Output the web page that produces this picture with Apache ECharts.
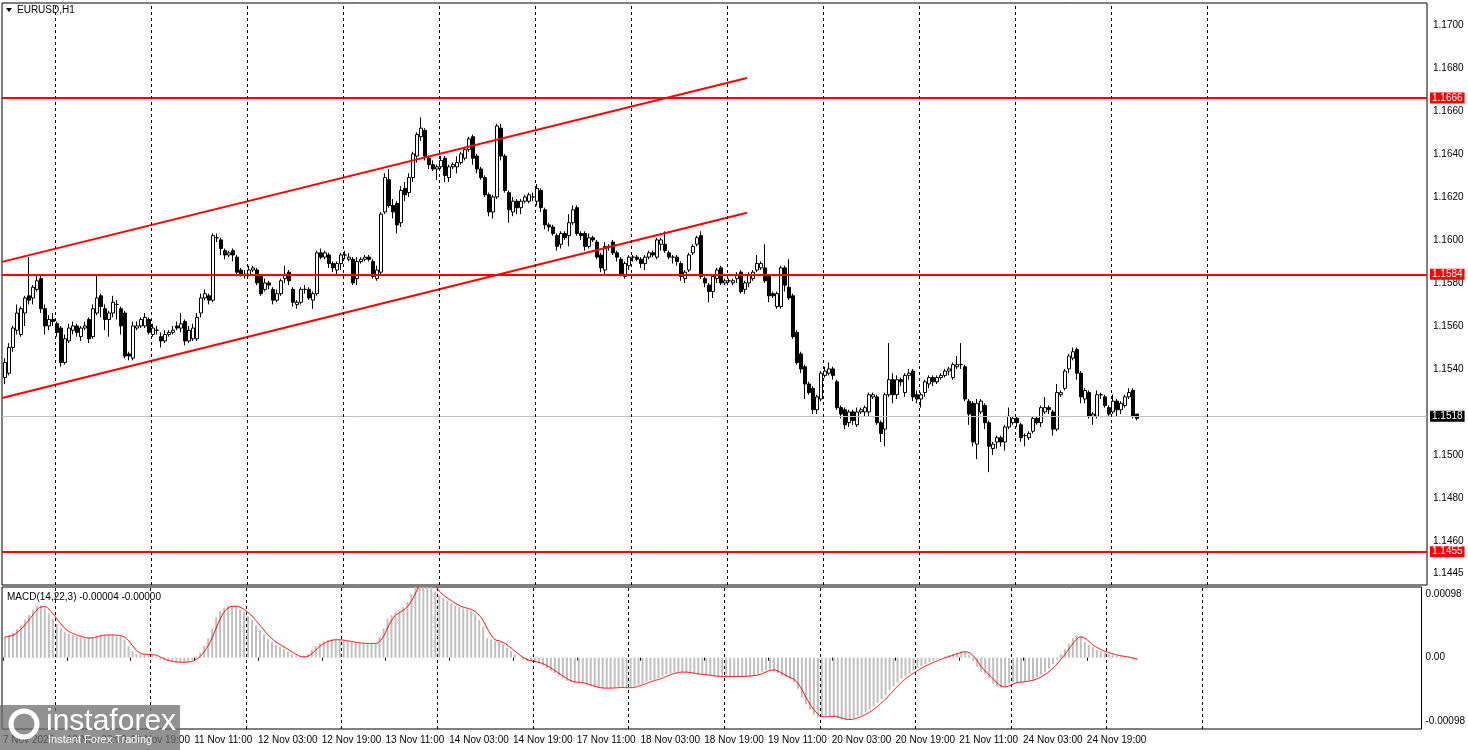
<!DOCTYPE html>
<html>
<head>
<meta charset="utf-8">
<script src="https://cdn.jsdelivr.net/npm/echarts@6/dist/echarts.min.js"></script>
<style>
  html, body { margin: 0; padding: 0; background: #fff; }
  #main { width: 1468px; height: 750px; }
</style>
</head>
<body>
<div id="main"></div>
<script>
// hourly candles, pips above 1.1500: [open, close, high, low]
var candles = [
[36,43,45,33],[38,50,52,37],[50,59,60,48],[58,66,70,56],[56,68,69,55],[66,73,74,60],[74,72,92,70],[73,78,79,70],[77,81,84,76],[82,68,84,66],
[68,60,70,56],[60,63,65,58],[63,62,66,60],[61,57,62,55],[59,43,60,41],[43,54,56,42],[53,59,61,52],[58,60,62,56],[60,57,61,55],[55,59,60,53],
[59,60,62,58],[63,54,64,52],[55,68,70,54],[66,73,84,65],[74,69,75,64],[68,63,70,58],[63,66,67,55],[66,71,74,64],[70,70,72,63],[68,60,69,56],
[66,46,67,45],[47,46,48,44],[45,60,62,44],[59,60,62,58],[60,63,64,59],[60,64,66,59],[63,57,64,56],[56,59,61,55],[58,58,60,56],[55,53,57,50],
[53,56,58,52],[56,57,58,55],[57,58,60,56],[60,59,62,58],[59,61,66,57],[62,53,63,51],[53,58,60,52],[54,59,61,53],[54,64,66,53],[66,73,75,64],
[73,75,77,72],[74,72,75,70],[72,102,103,71],[101,101,103,99],[100,96,101,93],[95,93,96,91],[93,94,95,92],[95,93,96,90],[92,85,93,84],[86,84,87,83],
[84,84,86,82],[84,86,88,83],[86,87,88,85],[86,80,87,79],[83,75,84,74],[77,80,82,76],[80,79,81,77],[77,72,78,70],[72,75,77,71],[75,81,82,74],
[82,84,88,80],[85,81,86,79],[77,71,78,69],[70,71,72,68],[71,77,78,70],[77,77,79,75],[77,73,78,72],[72,75,76,68],[75,94,95,74],[94,92,96,91],
[92,94,95,91],[93,89,94,87],[89,87,90,85],[86,89,90,84],[89,93,94,86],[93,93,95,91],[91,92,94,90],[91,80,92,79],[82,90,92,79],[90,91,92,89],
[91,92,93,90],[92,91,93,90],[90,83,91,82],[82,86,88,81],[85,112,113,84],[113,129,131,112],[128,116,133,115],[116,113,119,110],[117,107,118,103],[108,123,125,106],
[124,121,127,118],[122,129,131,120],[129,140,141,127],[139,149,150,136],[148,152,157,146],[151,139,152,137],[138,135,139,133],[135,133,137,132],[133,134,135,128],[134,137,139,133],
[138,130,139,127],[129,134,135,127],[134,135,136,133],[134,136,139,131],[136,140,141,135],[138,142,143,137],[142,147,148,141],[148,138,149,135],[139,133,140,131],[133,129,134,128],
[129,121,130,120],[121,113,122,111],[113,120,121,110],[120,153,154,119],[152,139,154,137],[139,123,140,122],[122,114,123,108],[113,118,120,111],[118,115,119,112],[115,118,119,112],
[118,120,121,117],[118,121,122,117],[120,120,122,118],[118,124,126,116],[123,115,124,113],[114,107,115,105],[107,106,108,104],[106,103,107,102],[102,97,103,95],[98,103,104,96],
[103,101,104,100],[102,108,112,97],[108,114,116,107],[115,103,116,102],[103,102,104,100],[103,97,104,95],[97,101,103,96],[101,100,102,99],[99,92,100,91],[93,87,94,85],
[86,97,99,84],[97,97,98,95],[99,94,100,93],[94,92,95,90],[91,84,92,83],[83,89,90,82],[88,92,93,86],[92,92,93,90],[92,91,93,90],[91,89,92,87],
[89,92,93,86],[92,94,95,91],[94,93,95,92],[92,100,101,91],[98,100,101,95],[98,95,104,94],[94,92,95,91],[92,92,93,89],[92,90,93,88],[89,83,90,81],
[82,85,86,80],[86,93,94,85],[94,97,98,93],[98,101,102,97],[102,83,104,82],[82,80,83,78],[79,76,80,71],[76,83,84,73],[82,86,87,80],[87,80,88,79],
[80,81,82,79],[81,81,82,80],[80,81,82,79],[82,84,85,80],[85,76,86,75],[77,80,81,75],[80,84,85,78],[82,85,86,81],[86,89,93,85],[87,89,90,86],
[87,81,98,80],[83,74,84,71],[75,74,76,73],[69,75,76,68],[69,87,88,68],[87,79,88,76],[78,73,91,72],[74,55,75,54],[57,43,58,42],[47,40,48,38],
[41,33,42,26],[33,29,34,28],[31,21,32,19],[21,27,28,19],[26,38,39,25],[37,39,41,36],[38,40,43,37],[40,37,41,35],[34,22,35,21],[22,19,23,17],
[21,14,22,12],[15,20,21,13],[20,16,21,14],[14,20,22,13],[20,21,22,19],[20,22,23,18],[20,28,29,18],[27,28,29,26],[27,15,28,14],[15,10,16,6],
[12,28,29,4],[28,35,52,27],[35,28,38,24],[28,35,37,26],[35,34,36,32],[29,37,38,27],[37,38,40,35],[39,27,40,25],[28,26,30,24],[26,28,29,22],
[29,34,35,27],[33,36,37,31],[36,34,37,32],[34,36,37,33],[36,37,38,35],[37,39,40,36],[39,40,41,37],[36,42,43,35],[41,42,46,40],[42,42,52,40],
[41,26,42,25],[25,19,26,14],[24,6,25,4],[5,24,26,-2],[20,25,26,19],[23,15,24,12],[15,4,16,-8],[3,5,6,0],[6,8,9,3],[8,6,9,4],
[6,13,14,2],[13,18,22,12],[15,17,18,14],[17,15,18,13],[14,8,15,6],[9,9,10,4],[8,10,11,7],[11,17,18,10],[17,15,18,14],[15,22,23,13],
[20,22,27,19],[22,21,23,19],[20,12,21,9],[12,29,33,11],[28,29,30,27],[31,39,40,30],[40,46,47,38],[45,48,50,44],[49,38,50,35],[38,27,39,24],
[26,30,31,24],[29,18,30,17],[18,19,20,14],[18,28,30,17],[28,28,29,26],[27,23,28,22],[22,19,23,18],[20,25,28,19],[25,21,26,18],[21,24,25,19],
[23,27,28,22],[27,29,31,26],[30,18,31,17],[19,17,19,16]
];

// MACD histogram, units of 0.00001
var macdHist = [
32,34,38,44,50,58,66,74,80,80,76,68,60,52,45,40,37,35,33,31,
30,30,32,34,35,35,35,35,34,33,28,18,10,6,5,5,5,4,2,-3,
-4,-6,-7,-7,-7,-7,-6,-4,2,8,18,30,45,62,72,77,80,80,78,75,
70,64,58,50,42,36,28,24,20,17,13,9,5,2,0,2,5,12,18,22,
25,27,28,28,27,26,25,24,23,22,22,22,22,22,32,45,60,66,70,72,
78,86,98,112,124,126,122,110,102,96,92,88,84,80,78,76,75,72,66,58,
48,30,28,26,24,20,15,10,5,0,-3,-5,-6,-7,-9,-12,-16,-20,-24,-28,
-32,-36,-38,-38,-38,-40,-42,-44,-46,-47,-47,-47,-47,-46,-46,-46,-47,-46,-44,-42,
-40,-37,-35,-34,-32,-29,-26,-24,-23,-22,-22,-23,-24,-25,-26,-26,-27,-28,-29,-29,
-29,-29,-29,-29,-29,-29,-28,-28,-27,-25,-22,-19,-18,-20,-24,-28,-30,-33,-38,-48,
-62,-72,-80,-88,-92,-92,-90,-90,-91,-93,-95,-96,-95,-93,-90,-88,-84,-80,-75,-70,
-64,-58,-50,-44,-38,-32,-28,-24,-20,-16,-13,-10,-7,-5,-2,0,2,4,6,8,
10,9,4,-5,-14,-22,-26,-32,-40,-45,-46,-44,-40,-38,-38,-37,-36,-35,-33,-30,
-26,-22,-17,-10,-3,5,13,22,30,34,32,24,20,16,12,10,8,6,4,3,
2,1,0,-2,-4
];

var levels = [1.1666, 1.1584, 1.1455];
var lastPrice = 1.1518;
var channelUpper = [[-0.75, 1.15898], [185.5, 1.16753]];
var channelLower = [[-0.75, 1.15265], [185.5, 1.16126]];
var dayLines = [12.5, 36.5, 60.5, 84.5, 108.5, 132.5, 156.5, 180.5, 204.5, 228.5, 252.5, 276.5, 300.5];
var timeLabels = ['7 Nov 2025', '10 Nov 03:00', '10 Nov 19:00', '11 Nov 11:00', '12 Nov 03:00', '12 Nov 19:00',
  '13 Nov 11:00', '14 Nov 03:00', '14 Nov 19:00', '17 Nov 11:00', '18 Nov 03:00', '18 Nov 19:00',
  '19 Nov 11:00', '20 Nov 03:00', '20 Nov 19:00', '21 Nov 11:00', '24 Nov 03:00', '24 Nov 19:00'];
var priceTicks = [1.1700, 1.1680, 1.1660, 1.1640, 1.1620, 1.1600, 1.1580, 1.1560, 1.1540, 1.1500, 1.1480, 1.1460, 1.1445];
var macdTicks = [0.00098, 0, -0.00098];

var FONT = 'Liberation Sans';

// build series data
var candleData = candles.map(function (c, i) {
  return [i, 1.15 + c[0] / 1e4, 1.15 + c[1] / 1e4, 1.15 + c[3] / 1e4, 1.15 + c[2] / 1e4];
});
var histData = macdHist.map(function (v, i) { return [i, v / 1e5]; });
// signal = SMA(3) of MACD main
var signalData = macdHist.map(function (v, i) {
  var a = macdHist.slice(Math.max(0, i - 2), i + 1);
  var s = 0; a.forEach(function (x) { s += x; });
  return [i, s / a.length / 1e5];
});
var labelPos = timeLabels.map(function (t, k) { return -0.5 + 16 * k; });

var dashStyle = { color: '#000', type: [3, 3], width: 1 };
function dayMarks() {
  return dayLines.map(function (x) { return { xAxis: x, lineStyle: dashStyle, label: { show: false } }; });
}
function levelMark(v, bg, lineColor, width) {
  return { yAxis: v, lineStyle: { color: lineColor, width: width, type: 'solid' },
    label: { show: true, position: 'end', distance: 3, formatter: v.toFixed(4), color: '#fff',
      backgroundColor: bg, padding: [1, 2, 0, 2], fontSize: 10, fontFamily: FONT } };
}

var chart = echarts.init(document.getElementById('main'));
chart.setOption({
  animation: false,
  backgroundColor: '#fff',
  textStyle: { fontFamily: FONT },
  grid: [
    { left: 2, right: 41, top: 3, height: 582, show: true, borderColor: '#000', borderWidth: 1 },
    { left: 2, right: 41, top: 587, height: 142, show: true, borderColor: '#000', borderWidth: 1 }
  ],
  xAxis: [
    { type: 'value', gridIndex: 0, min: -0.75, max: 355.5, show: false, splitLine: { show: false } },
    { type: 'value', gridIndex: 1, min: -0.75, max: 355.5, splitLine: { show: false },
      axisLine: { show: false },
      axisTick: { show: true, length: 3, lineStyle: { color: '#000' }, customValues: labelPos },
      axisLabel: { customValues: labelPos, align: 'left', margin: 6, fontSize: 10, color: '#000', fontFamily: FONT,
        formatter: function (v) { var k = Math.round((v + 0.5) / 16); return timeLabels[k] || ''; } } }
  ],
  yAxis: [
    { type: 'value', gridIndex: 0, position: 'right', min: 1.14395, max: 1.17102,
      splitLine: { show: false }, axisLine: { show: false }, axisTick: { show: false },
      axisLabel: { customValues: priceTicks, showMaxLabel: true, hideOverlap: false, margin: 6, fontSize: 10, color: '#000', fontFamily: FONT,
        formatter: function (v) { return v.toFixed(4); } } },
    { type: 'value', gridIndex: 1, position: 'right', min: -0.0011, max: 0.00109,
      splitLine: { show: false }, axisLine: { show: false }, axisTick: { show: false },
      axisLabel: { customValues: macdTicks, margin: 4, fontSize: 10, color: '#000', fontFamily: FONT,
        formatter: function (v) { return v === 0 ? '0.00' : v.toFixed(5); } } }
  ],
  series: [
    {
      type: 'candlestick', xAxisIndex: 0, yAxisIndex: 0, barWidth: 3,
      encode: { x: 0, y: [1, 2, 3, 4] },
      itemStyle: { color: '#fff', color0: '#000', borderColor: '#000', borderColor0: '#000', borderWidth: 1 },
      data: candleData,
      z: 3
    },
    { type: 'line', xAxisIndex: 0, yAxisIndex: 0, data: channelUpper, symbol: 'none',
      lineStyle: { color: '#ff0000', width: 2 }, z: 4,
      markLine: {
        silent: true, symbol: 'none', precision: 5,
        data: levels.map(function (v) { return levelMark(v, '#ff0000', '#ff0000', 2); })
          .concat([levelMark(lastPrice, '#000', '#c0c0c0', 1)])
          .concat(dayMarks())
      } },
    { type: 'line', xAxisIndex: 0, yAxisIndex: 0, data: channelLower, symbol: 'none',
      lineStyle: { color: '#ff0000', width: 2 }, z: 4 },
    { type: 'bar', xAxisIndex: 1, yAxisIndex: 1, data: histData, barWidth: 2,
      itemStyle: { color: '#c0c0c0' },
      markLine: { silent: true, symbol: 'none', precision: 2, data: dayMarks() } },
    { type: 'line', xAxisIndex: 1, yAxisIndex: 1, data: signalData, symbol: 'none', smooth: true,
      lineStyle: { color: '#ff0000', width: 1 }, z: 5 }
  ],
  graphic: [
    { type: 'polygon', shape: { points: [[6, 8], [12, 8], [9, 12]] }, style: { fill: '#000' } },
    { type: 'text', left: 17, top: 5, style: { text: 'EURUSD,H1', font: '10px ' + FONT, fill: '#000' } },
    { type: 'text', left: 7, top: 592, style: { text: 'MACD(14,22,3) -0.00004 -0.00000', font: '10px ' + FONT, fill: '#000' } },
    { type: 'rect', shape: { x: 0, y: 705, width: 180, height: 45 }, style: { fill: 'rgba(110,110,110,0.75)' }, z: 10 },
    { type: 'circle', shape: { cx: 24, cy: 724, r: 13 }, style: { fill: 'none', stroke: '#fff', lineWidth: 5 }, z: 11 },
    { type: 'text', left: 46, top: 707, z: 11, style: { text: 'instaforex', font: '30px ' + FONT, fill: '#fff' } },
    { type: 'text', left: 48, top: 734, z: 11, style: { text: 'Instant Forex Trading', font: '11px ' + FONT, fill: '#fff' } }
  ]
});
</script>
</body>
</html>
